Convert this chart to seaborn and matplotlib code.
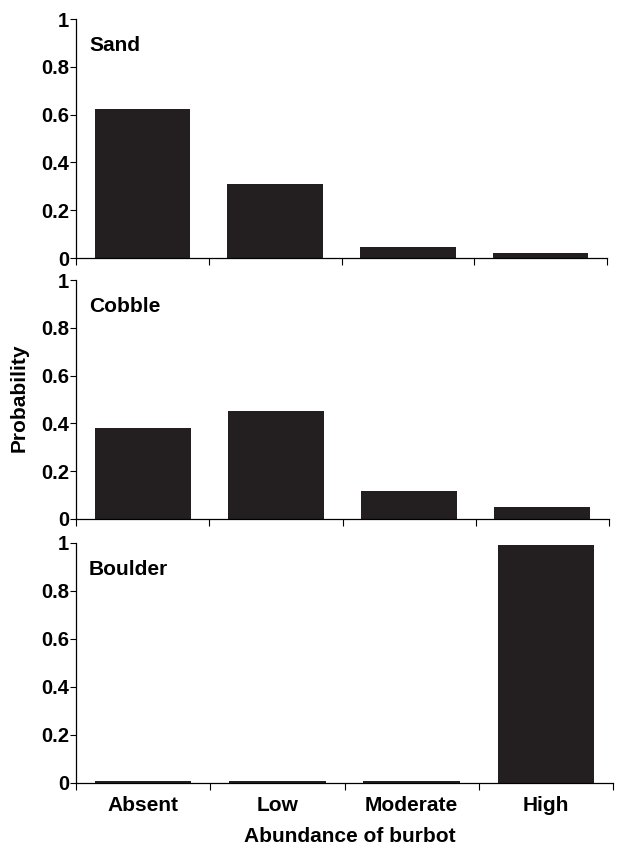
import matplotlib
matplotlib.use("Agg")
import matplotlib.pyplot as plt
import seaborn as sns
import pandas as pd
from matplotlib.ticker import FixedLocator

categories = ["Absent", "Low", "Moderate", "High"]
sand = [0.622, 0.311, 0.047, 0.021]
cobble = [0.379, 0.45, 0.117, 0.05]
boulder = [0.007, 0.007, 0.007, 0.993]
panel_names = ["Sand", "Cobble", "Boulder"]
panel_values = [sand, cobble, boulder]
yticks = [0, 0.2, 0.4, 0.6, 0.8, 1]
ytick_labels = ["0", "0.2", "0.4", "0.6", "0.8", "1"]

sns.set_theme(style="white")
plt.rcParams["font.family"] = ["Liberation Sans", "DejaVu Sans"]
plt.rcParams["font.weight"] = "bold"

W, H = 617, 848
fig = plt.figure(figsize=(W / 100, H / 100), dpi=100)

# (top_px, bottom_px, right_px) per panel
panel_px = [(19, 258, 607), (280, 519, 609), (543, 783, 613)]
left_px = 76
bar_color = "#231f20"
FS = 15

for i, (name, vals) in enumerate(zip(panel_names, panel_values)):
    top, bot, right_px = panel_px[i]
    ax = fig.add_axes([left_px / W, 1 - bot / H, (right_px - left_px) / W, (bot - top) / H])
    df = pd.DataFrame({"cat": categories, "prob": vals})
    sns.barplot(data=df, x="cat", y="prob", order=categories, color=bar_color,
                saturation=1, width=0.72, edgecolor="none", ax=ax)
    ax.set_xlim(-0.5, len(categories) - 0.5)
    ax.set_ylim(0, 1)
    ax.set_yticks(yticks)
    ax.set_yticklabels(ytick_labels, fontsize=14.5, fontweight="bold")
    for s in ["top", "right"]:
        ax.spines[s].set_visible(False)
    for s in ["left", "bottom"]:
        ax.spines[s].set_color("black")
        ax.spines[s].set_linewidth(0.9)
    ax.tick_params(axis="y", which="major", direction="out", length=4, width=0.8,
                   color="black", pad=1, left=True, labelcolor="black")
    ax.xaxis.set_minor_locator(FixedLocator([k - 0.5 for k in range(len(categories) + 1)]))
    ax.tick_params(axis="x", which="minor", direction="out", length=5, width=0.8,
                   color="black", bottom=True)
    ax.tick_params(axis="x", which="major", length=0, pad=9.5, labelcolor="black")
    if i == 2:
        ax.set_xticks(range(len(categories)))
        ax.set_xticklabels(categories, fontsize=FS, fontweight="bold")
    else:
        ax.set_xticklabels([])
    ax.set_xlabel("")
    ax.set_ylabel("")
    ax.text(13 / (right_px - left_px), 0.89, name, transform=ax.transAxes,
            ha="left", va="center", fontsize=FS, fontweight="bold", color="black")

fig.text(19 / W, 1 - 398 / H, "Probability", rotation=90, ha="center", va="center",
         fontsize=FS, fontweight="bold", color="black")
fig.text(350 / W, 1 - 836 / H, "Abundance of burbot",
         ha="center", va="center", fontsize=FS, fontweight="bold", color="black")

fig.savefig("out.png", dpi=100, facecolor="white")
